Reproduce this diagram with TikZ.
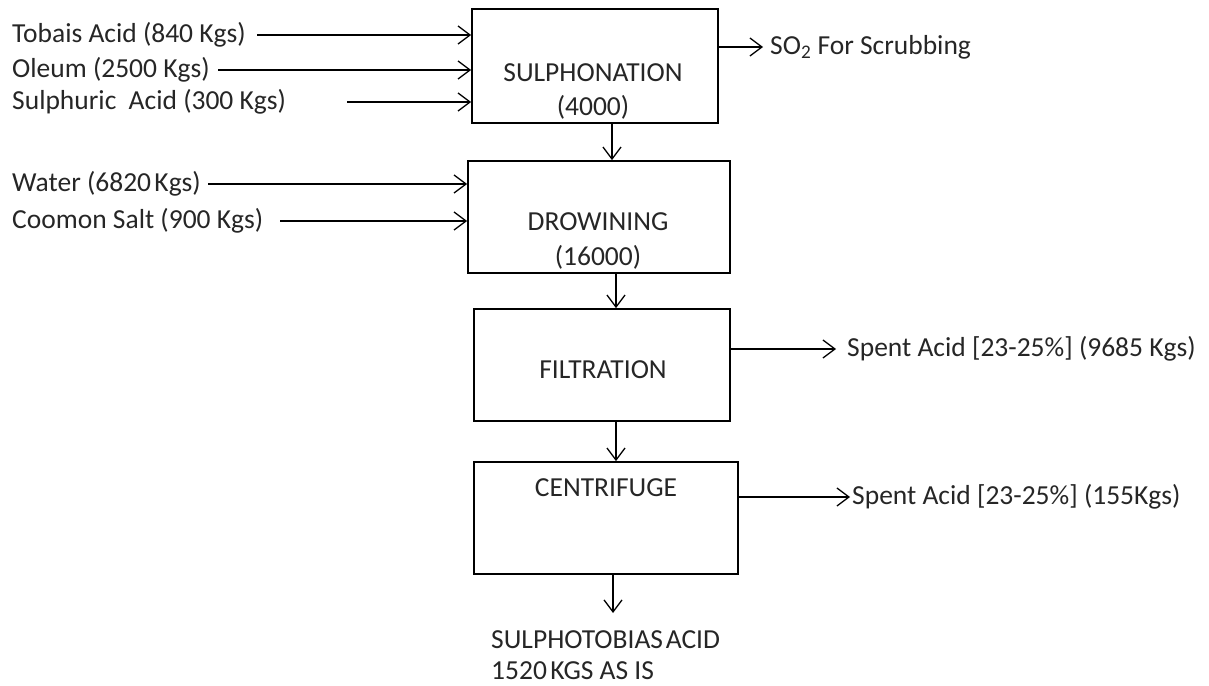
\documentclass[tikz,border=0pt]{standalone}
\usepackage{fontspec}
\setmainfont{Carlito}
\usetikzlibrary{arrows.meta}
\begin{document}
\begin{tikzpicture}[x=1pt,y=-1pt,
  every node/.style={font=\fontsize{27.5}{33}\selectfont, text=black!85},
  stagebox/.style={draw, line width=1.8pt, inner sep=0pt},
  txt/.style={inner sep=0pt, anchor=west},
  ctxt/.style={inner sep=0pt, anchor=center},
  flow/.style={line width=1.3pt, -{Straight Barb[length=12pt,width=18pt,line width=1.3pt]}}]
\useasboundingbox (0,0) rectangle (1209,685);

% process stages
\node[stagebox, minimum width=246pt, minimum height=114pt] (sul) at (595,66) {};
\node[stagebox, minimum width=262pt, minimum height=112pt] (drw) at (599,217) {};
\node[stagebox, minimum width=256pt, minimum height=112pt] (fil) at (602,365) {};
\node[stagebox, minimum width=264pt, minimum height=112pt] (cen) at (606,518) {};

% stage captions
\node[ctxt] (sulA) at (593,73) {SULPHONATION};
\node[ctxt] (sulB) at (593,107) {(4000)};
\node[ctxt] (drwA) at (598,222) {DROWINING};
\node[ctxt] (drwB) at (598,257) {(16000)};
\node[ctxt] (filA) at (603,370) {FILTRATION};
\node[ctxt] (cenA) at (606,488) {CENTRIFUGE};

% feed streams
\node[txt] (tob) at (12,35) {Tobais Acid (840 Kgs)};
\node[txt] (ole) at (12,70) {Oleum (2500 Kgs)};
\node[txt] (sph) at (12,102) {Sulphuric\hspace{0.45em}Acid (300 Kgs)};
\node[txt] (wat) at (12,184) {Water (6820\hspace{0.12em}Kgs)};
\node[txt] (sal) at (12,221) {Coomon Salt (900 Kgs)};

\coordinate (tobS) at (257,35);
\coordinate (oleS) at (218,70);
\coordinate (sphS) at (347,102);
\coordinate (watS) at (208,184);
\coordinate (salS) at (280,221);

\draw[flow] (tobS) -- (tobS -| sul.west);
\draw[flow] (oleS) -- (oleS -| sul.west);
\draw[flow] (sphS) -- (sphS -| sul.west);
\draw[flow] (watS) -- (watS -| drw.west);
\draw[flow] (salS) -- (salS -| drw.west);

% product streams
\node[txt] (so2) at (770,47) {SO\textsubscript{2} For Scrubbing};
\node[txt] (sp1) at (847,349) {Spent Acid [23-25\%] (9685 Kgs)};
\node[txt] (sp2) at (852,497) {Spent Acid [23-25\%] (155Kgs)};
\node[inner sep=0pt, anchor=base west] (prodA) at (491,648) {SULPHOTOBIAS\hspace{0.1em}ACID};
\node[inner sep=0pt, anchor=base west] (prodB) at (491,679) {1520\hspace{0.12em}KGS AS IS};

\draw[flow] (sul.east |- so2) -- ([xshift=-7pt]so2.west);
\draw[flow] (fil.east |- sp1) -- ([xshift=-11pt]sp1.west);
\draw[flow] (cen.east |- sp2) -- ([xshift=-2pt]sp2.west);

% main line
\draw[flow] (612,0 |- sul.south) -- (612,0 |- drw.north);
\draw[flow] (616,0 |- drw.south) -- (616,0 |- fil.north);
\draw[flow] (616,0 |- fil.south) -- (616,0 |- cen.north);
\coordinate (out) at (613,613);
\draw[flow] (613,0 |- cen.south) -- (out);
\end{tikzpicture}
\end{document}
